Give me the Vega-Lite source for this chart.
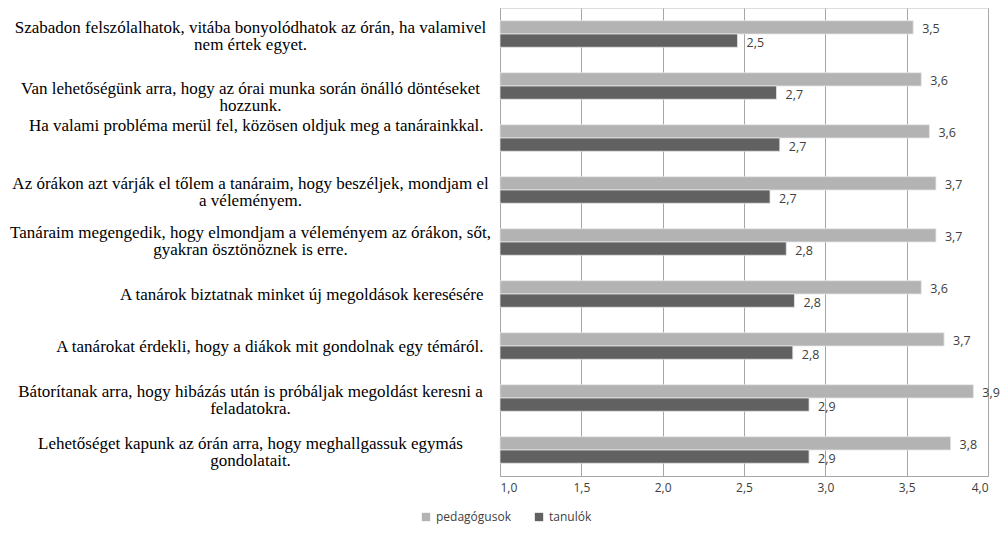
{
  "$schema": "https://vega.github.io/schema/vega-lite/v6.json",
  "autosize": {"type": "none"},
  "padding": {"left": 500, "top": 8, "right": 15, "bottom": 61},
  "width": 488,
  "height": 468,
  "background": "white",
  "data": {
    "values": [
      {"k": "Szabadon felszólalhatok, vitába bonyolódhatok az órán, ha valamivel\nnem értek egyet.", "cs": "pedagógusok", "v": 3.54},
      {"k": "Szabadon felszólalhatok, vitába bonyolódhatok az órán, ha valamivel\nnem értek egyet.", "cs": "tanulók", "v": 2.46},
      {"k": "Van lehetőségünk arra, hogy az órai munka során önálló döntéseket\nhozzunk.", "cs": "pedagógusok", "v": 3.59},
      {"k": "Van lehetőségünk arra, hogy az órai munka során önálló döntéseket\nhozzunk.", "cs": "tanulók", "v": 2.70},
      {"k": "Ha valami probléma merül fel, közösen oldjuk meg a tanárainkkal.", "cs": "pedagógusok", "v": 3.64},
      {"k": "Ha valami probléma merül fel, közösen oldjuk meg a tanárainkkal.", "cs": "tanulók", "v": 2.72},
      {"k": "Az órákon azt várják el tőlem a tanáraim, hogy beszéljek, mondjam el\na véleményem.", "cs": "pedagógusok", "v": 3.68},
      {"k": "Az órákon azt várják el tőlem a tanáraim, hogy beszéljek, mondjam el\na véleményem.", "cs": "tanulók", "v": 2.66},
      {"k": "Tanáraim megengedik, hogy elmondjam a véleményem az órákon, sőt,\ngyakran ösztönöznek is erre.", "cs": "pedagógusok", "v": 3.68},
      {"k": "Tanáraim megengedik, hogy elmondjam a véleményem az órákon, sőt,\ngyakran ösztönöznek is erre.", "cs": "tanulók", "v": 2.76},
      {"k": "A tanárok biztatnak minket új megoldások keresésére", "cs": "pedagógusok", "v": 3.59},
      {"k": "A tanárok biztatnak minket új megoldások keresésére", "cs": "tanulók", "v": 2.81},
      {"k": "A tanárokat érdekli, hogy a diákok mit gondolnak egy témáról.", "cs": "pedagógusok", "v": 3.73},
      {"k": "A tanárokat érdekli, hogy a diákok mit gondolnak egy témáról.", "cs": "tanulók", "v": 2.80},
      {"k": "Bátorítanak arra, hogy hibázás után is próbáljak megoldást keresni a\nfeladatokra.", "cs": "pedagógusok", "v": 3.91},
      {"k": "Bátorítanak arra, hogy hibázás után is próbáljak megoldást keresni a\nfeladatokra.", "cs": "tanulók", "v": 2.90},
      {"k": "Lehetőséget kapunk az órán arra, hogy meghallgassuk egymás\ngondolatait.", "cs": "pedagógusok", "v": 3.77},
      {"k": "Lehetőséget kapunk az órán arra, hogy meghallgassuk egymás\ngondolatait.", "cs": "tanulók", "v": 2.90}
    ]
  },
  "encoding": {
    "y": {
      "field": "k",
      "type": "nominal",
      "sort": null,
      "scale": {"paddingInner": 0.49, "paddingOuter": 0.245},
      "axis": {
        "title": null,
        "ticks": false,
        "tickSize": 0,
        "domain": true,
        "domainColor": "#a6a6a6",
        "labelExpr": "split(datum.value, '\\n')",
        "labelFont": "Liberation Serif",
        "labelFontSize": 17,
        "labelColor": "#000000",
        "labelLineHeight": 17,
        "labelLimit": 0,
        "labelBaseline": "middle",
        "labelOffset": {"condition": [
          {"test": "indexof(datum.value, 'Van lehet') == 0", "value": 3},
          {"test": "indexof(datum.value, 'Tanáraim') == 0", "value": -9},
          {"test": "indexof(datum.value, 'Ha valami') == 0", "value": -12},
          {"test": "indexof(datum.value, '\\n') >= 0", "value": -6}
        ], "value": 1},
        "labelAlign": {"condition": {"test": "indexof(datum.value, '\\n') >= 0", "value": "center"}, "value": "right"},
        "labelPadding": {"condition": {"test": "indexof(datum.value, '\\n') >= 0", "value": 250}, "value": 17}
      }
    },
    "yOffset": {"field": "cs", "type": "nominal", "sort": ["pedagógusok", "tanulók"]}
  },
  "layer": [
    {
      "mark": {"type": "bar", "stroke": "#e6e6e6", "strokeWidth": 0.8},
      "encoding": {
        "x": {
          "field": "v",
          "type": "quantitative",
          "scale": {"domain": [1, 4], "zero": false, "nice": false},
          "axis": {
            "title": null,
            "values": [1, 1.5, 2, 2.5, 3, 3.5, 4],
            "labelExpr": "replace(format(datum.value, '.1f'), '.', ',')",
            "labelFont": "Open Sans",
            "labelFontSize": 12,
            "labelColor": "#404040",
            "labelPadding": 6,
            "ticks": false,
            "grid": true,
            "gridColor": "#a6a6a6",
            "domainColor": "#a6a6a6"
          }
        },
        "x2": {"datum": 1},
        "color": {
          "field": "cs",
          "type": "nominal",
          "sort": ["pedagógusok", "tanulók"],
          "scale": {"domain": ["pedagógusok", "tanulók"], "range": ["#b3b3b3", "#616161"]},
          "legend": {
            "title": null,
            "orient": "none",
            "legendX": -80,
            "legendY": 503,
            "direction": "horizontal",
            "symbolType": "square",
            "symbolSize": 70,
            "symbolStrokeWidth": 0,
            "labelFont": "Open Sans",
            "labelFontSize": 12,
            "labelColor": "#404040",
            "columnPadding": 22
          }
        }
      }
    },
    {
      "mark": {"type": "text", "align": "left", "baseline": "middle", "dx": 9, "dy": 2, "font": "Open Sans", "fontSize": 12.5, "color": "#404040"},
      "encoding": {
        "x": {"field": "v", "type": "quantitative"},
        "text": {"value": {"expr": "replace(format(datum.v, '.1f'), '.', ',')"}}
      }
    }
  ]
}
